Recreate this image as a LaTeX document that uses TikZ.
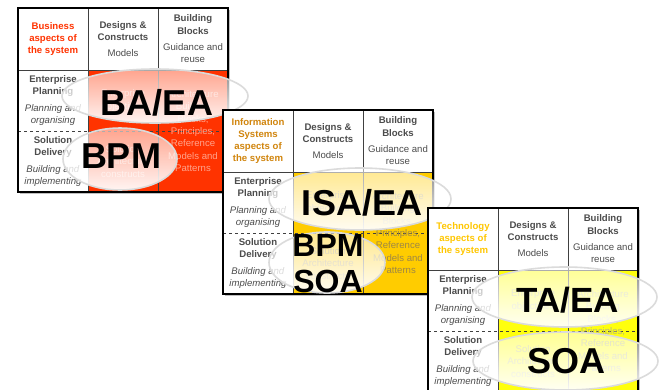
\documentclass[tikz,border=0pt]{standalone}
\usepackage{fontspec}
\setmainfont{Liberation Sans}
\usetikzlibrary{fadings}
\definecolor{BusClr}{rgb}{1,0.2,0}
\definecolor{InfClr}{rgb}{1,0.8,0}
\definecolor{TecClr}{rgb}{1,1,0.05}
\definecolor{InfTxt}{rgb}{0.82,0.52,0.05}
\definecolor{TecTxt}{rgb}{1,0.78,0}
\definecolor{BusFnt}{rgb}{1,0.64,0.55}
\definecolor{InfFnt}{rgb}{0.62,0.53,0.27}
\definecolor{TecFnt}{rgb}{0.72,0.72,0.48}
\definecolor{RingClr}{rgb}{0.86,0.86,0.86}
\tikzfading[name=glass, top color=transparent!45, middle color=transparent!65, bottom color=transparent!5]

% one grid: origin x, origin y, fill, header colour, header text, faint colour, name
\newcommand{\aspectgrid}[7]{%
\begin{scope}[shift={(#1,#2)}]
\fill[gray!50] (2,2) rectangle (212,186);
\fill[white] (0,0) rectangle (210,184);
\fill[#3] (70,62) rectangle (210,184);
\draw[gridline] (70,0) -- (70,184) (140,0) -- (140,184) (0,62) -- (210,62);
\draw[gridline,dashed] (0,123) -- (210,123);
\draw[line width=1.2pt] (0,0) rectangle (210,184);
\node[cell,text=#4,font=\fontsize{9.6}{12.3}\selectfont\bfseries] (#7aspect) at (35,31) {#5};
\node[cell] (#7designs) at (105,31) {\textbf{Designs \&}\\\textbf{Constructs}\\[3pt]Models};
\node[cell] (#7blocks) at (175,31) {\textbf{Building}\\\textbf{Blocks}\\[4pt]Guidance and\\reuse};
\node[cell] (#7planning) at (35,92.5) {\textbf{Enterprise}\\\textbf{Planning}\\[4pt]\textit{Planning and}\\\textit{organising}};
\node[cell] (#7delivery) at (35,153.5) {\textbf{Solution}\\\textbf{Delivery}\\[4pt]\textit{Building and}\\\textit{implementing}};
\node[cell,text=#6] (#7ent) at (105,92.5) {Enterprise\\objectives};
\node[cell,text=#6] (#7abb) at (175,123) {Architecture\\Building\\Blocks,\\Principles,\\Reference\\Models and\\Patterns};
\node[cell,text=#6] (#7sol) at (105,153.5) {Solution\\Architecture\\constructs};
\end{scope}}

\begin{document}
\begin{tikzpicture}[x=1pt,y=-1pt,
  gridline/.style={line width=.5pt,color=black!75},
  cell/.style={align=center,inner sep=0pt,text=black!70,font=\fontsize{9.6}{12.3}\selectfont},
  glassfill/.style={fill=white,path fading=glass},
  ringline/.style={draw=RingClr,line width=1.6pt},
  big/.style={anchor=base,inner sep=0pt,font=\fontsize{36}{36}\selectfont\bfseries}]
\useasboundingbox (0,0) rectangle (669,389);
\clip (0,0) rectangle (669,389);

\aspectgrid{18}{8}{BusClr}{BusClr}{Business\\aspects of\\the system}{BusFnt}{bus}
\fill[glassfill] (155,96) ellipse [x radius=93pt, y radius=27pt];
\draw[ringline] (155,96) ellipse [x radius=93pt, y radius=27pt];
\fill[glassfill] (120,159) ellipse [x radius=57pt, y radius=31pt];
\draw[ringline] (120,159) ellipse [x radius=57pt, y radius=31pt];
\node[big] (baea) at (157,115) {BA/EA};
\node[big] (bpmA) at (121,168) {BPM};

\aspectgrid{223}{110}{InfClr}{InfTxt}{Information\\Systems\\aspects of\\the system}{InfFnt}{inf}
\fill[glassfill] (360,199) ellipse [x radius=91pt, y radius=31pt];
\draw[ringline] (360,199) ellipse [x radius=91pt, y radius=31pt];
\fill[glassfill] (327,262.5) ellipse [x radius=58pt, y radius=30.5pt];
\draw[ringline] (327,262.5) ellipse [x radius=58pt, y radius=30.5pt];
\node[big] (isaea) at (362,215) {ISA/EA};
\node[big,font=\fontsize{32}{32}\selectfont\bfseries] (bpmB) at (328,256) {BPM};
\node[big,font=\fontsize{32}{32}\selectfont\bfseries] (soaB) at (328,292) {SOA};

\aspectgrid{428}{208}{TecClr}{TecTxt}{Technology\\aspects of\\the system}{TecFnt}{tec}
\fill[glassfill] (564.5,297) ellipse [x radius=92.5pt, y radius=30pt];
\draw[ringline] (564.5,297) ellipse [x radius=92.5pt, y radius=30pt];
\fill[glassfill] (565.5,361) ellipse [x radius=92.5pt, y radius=29pt];
\draw[ringline] (565.5,361) ellipse [x radius=92.5pt, y radius=29pt];
\node[big,font=\fontsize{35}{35}\selectfont\bfseries] (taea) at (568,312) {TA/EA};
\node[big] (soaC) at (566,373) {SOA};

\end{tikzpicture}
\end{document}
